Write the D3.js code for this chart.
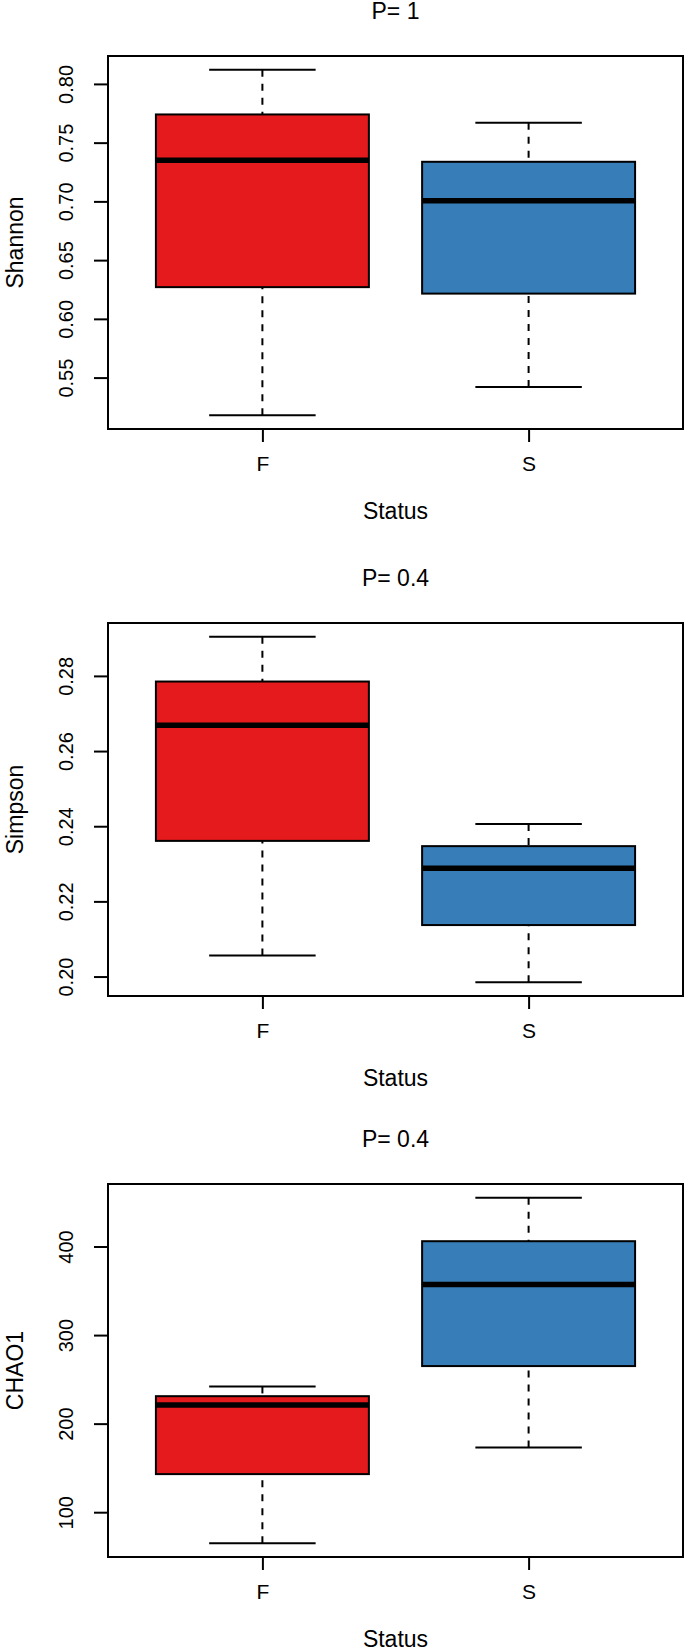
<!DOCTYPE html>
<html>
<head>
<meta charset="utf-8">
<script src="https://cdn.jsdelivr.net/npm/d3@7/dist/d3.min.js"></script>
<style>
  body { margin: 0; background: #fff; }
  text { font-family: "Liberation Sans", Arial, Helvetica, sans-serif; fill: #000; }
</style>
</head>
<body>
<div id="chart"></div>
<script>
const groups = ["F", "S"];
const metrics = ["Shannon", "Simpson", "CHAO1"];
const pLabels = ["P= 1", "P= 0.4", "P= 0.4"];
const xLabel = "Status";

// lower whisker, Q1, median, Q3, upper whisker
const shannonF = [0.518, 0.627, 0.735, 0.774, 0.812];
const shannonS = [0.542, 0.6215, 0.7005, 0.7337, 0.767];
const simpsonF = [0.2056, 0.2361, 0.2669, 0.2785, 0.2904];
const simpsonS = [0.1985, 0.2137, 0.2288, 0.2347, 0.2406];
const chao1F = [65, 143, 221, 231, 242];
const chao1S = [173, 265, 357, 406, 455];

const shannonTicks = [0.55, 0.60, 0.65, 0.70, 0.75, 0.80];
const simpsonTicks = [0.20, 0.22, 0.24, 0.26, 0.28];
const chao1Ticks = [100, 200, 300, 400];

const colors = ["#E41A1C", "#377EB8"];

const panels = [
  { name: metrics[0], p: pLabels[0], stats: [shannonF, shannonS], ticks: shannonTicks, fmt: d3.format(".2f") },
  { name: metrics[1], p: pLabels[1], stats: [simpsonF, simpsonS], ticks: simpsonTicks, fmt: d3.format(".2f") },
  { name: metrics[2], p: pLabels[2], stats: [chao1F, chao1S], ticks: chao1Ticks, fmt: d3.format("d") }
];

const W = 685, H = 1649;
const panelTops = [56, 623, 1184];
const plotH = 373;
const left = 108, right = 683;

const svg = d3.select("#chart").append("svg")
  .attr("width", W)
  .attr("height", H);

// R style: x range 0.5..2.5 padded by 4%
const x = d3.scaleLinear().domain([0.42, 2.58]).range([left, right]);
const boxHalf = 0.4, capHalf = 0.2;

panels.forEach((p, i) => {
  const top = panelTops[i];
  const bottom = top + plotH;
  const all = p.stats.flat();
  const [lo, hi] = d3.extent(all);
  const pad = (hi - lo) * 0.04;
  const y = d3.scaleLinear().domain([lo - pad, hi + pad]).range([bottom, top]);

  const g = svg.append("g").attr("class", "panel");

  p.stats.forEach((s, j) => {
    const cx = j + 1;
    const bg = g.append("g").attr("class", "box");
    // whiskers, drawn from the whisker end towards the box
    [[s[0], s[1]], [s[4], s[3]]].forEach(([a, b]) => {
      bg.append("line")
        .attr("x1", x(cx)).attr("x2", x(cx))
        .attr("y1", y(a)).attr("y2", y(b))
        .attr("stroke", "#000").attr("stroke-width", 2)
        .attr("stroke-dasharray", "7,7");
    });
    // caps
    [s[0], s[4]].forEach(v => {
      bg.append("line")
        .attr("x1", x(cx - capHalf)).attr("x2", x(cx + capHalf))
        .attr("y1", y(v)).attr("y2", y(v))
        .attr("stroke", "#000").attr("stroke-width", 2);
    });
    bg.append("rect")
      .attr("x", x(cx - boxHalf))
      .attr("y", y(s[3]))
      .attr("width", x(cx + boxHalf) - x(cx - boxHalf))
      .attr("height", y(s[1]) - y(s[3]))
      .attr("fill", colors[j])
      .attr("stroke", "#000").attr("stroke-width", 2);
    bg.append("line")
      .attr("x1", x(cx - boxHalf)).attr("x2", x(cx + boxHalf))
      .attr("y1", y(s[2])).attr("y2", y(s[2]))
      .attr("stroke", "#000").attr("stroke-width", 5.5);
  });

  // frame
  g.append("rect")
    .attr("x", left).attr("y", top)
    .attr("width", right - left).attr("height", plotH)
    .attr("fill", "none").attr("stroke", "#000").attr("stroke-width", 2);

  // y axis
  const ya = g.append("g")
    .attr("transform", `translate(${left},0)`)
    .call(d3.axisLeft(y).tickValues(p.ticks).tickFormat(p.fmt).tickSize(14).tickSizeOuter(0));
  ya.select(".domain").remove();
  ya.selectAll(".tick line").attr("stroke", "#000").attr("stroke-width", 2);
  ya.selectAll(".tick text")
    .attr("x", null)
    .attr("dy", "0.35em")
    .attr("text-anchor", "middle")
    .attr("transform", "translate(-42,0) rotate(-90)")
    .style("font-size", "20px")
    .style("font-family", "'Liberation Sans', Arial, sans-serif")
    .attr("fill", "#000");

  // x axis
  const xa = g.append("g")
    .attr("transform", `translate(0,${bottom})`)
    .call(d3.axisBottom(x).tickValues([1, 2]).tickFormat((d, k) => groups[k]).tickSize(13).tickSizeOuter(0));
  xa.select(".domain").remove();
  xa.selectAll(".tick line").attr("stroke", "#000").attr("stroke-width", 2);
  xa.selectAll(".tick text")
    .attr("y", 35)
    .attr("dy", "0.35em")
    .style("font-size", "21px")
    .style("font-family", "'Liberation Sans', Arial, sans-serif")
    .attr("fill", "#000");

  // labels
  g.append("text")
    .attr("x", (left + right) / 2)
    .attr("y", top - 45)
    .attr("dy", "0.35em")
    .attr("text-anchor", "middle")
    .style("font-size", "23px")
    .text(p.p);

  g.append("text")
    .attr("x", (left + right) / 2)
    .attr("y", bottom + 82)
    .attr("dy", "0.35em")
    .attr("text-anchor", "middle")
    .style("font-size", "23px")
    .text(xLabel);

  g.append("text")
    .attr("transform", `translate(15,${(top + bottom) / 2}) rotate(-90)`)
    .attr("dy", "0.35em")
    .attr("text-anchor", "middle")
    .style("font-size", "23px")
    .text(p.name);
});
</script>
</body>
</html>
